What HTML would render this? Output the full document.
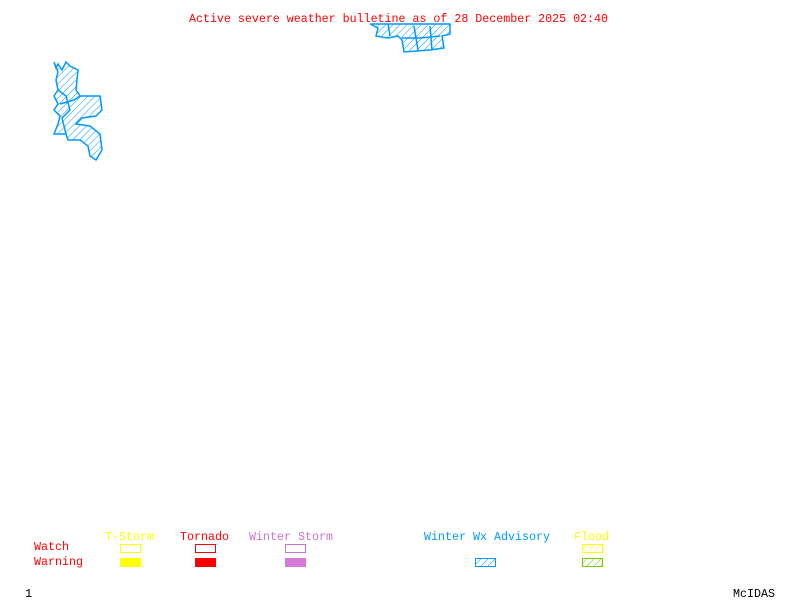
<!DOCTYPE html>
<html><head><style>
body{margin:0;background:#fff;width:800px;height:600px;overflow:hidden}
svg{display:block}
text{font-family:"Liberation Mono",monospace;font-size:12px}
</style></head><body>
<svg width="800" height="600" xmlns="http://www.w3.org/2000/svg">
<defs>
<pattern id="hb" width="5" height="5" patternUnits="userSpaceOnUse" patternTransform="rotate(45)"><line x1="0" y1="0" x2="0" y2="5" stroke="#09f" stroke-width="1"/></pattern>
<pattern id="hy" width="5" height="5" patternUnits="userSpaceOnUse" patternTransform="rotate(45)"><line x1="0" y1="0" x2="0" y2="5" stroke="#ff0" stroke-width="1"/></pattern>
<pattern id="hg" width="5" height="5" patternUnits="userSpaceOnUse" patternTransform="rotate(45)"><line x1="0" y1="0" x2="0" y2="5" stroke="#7c0" stroke-width="1"/></pattern>
</defs>
<text x="189" y="22" fill="#f00" textLength="419" lengthAdjust="spacingAndGlyphs">Active severe weather bulletine as of 28 December 2025 02:40</text>
<polygon points="54,62 56,68 58,64 62,70 66,62 70,66 78,70 76,90 80,96 100,96 102,110 96,116 82,118 76,124 90,126 100,134 102,150 96,160 90,156 88,146 80,140 68,140 66,134 54,134 58,124 60,116 54,110 58,104 54,96 58,90 56,80 58,72" fill="url(#hb)" stroke="#09f" stroke-width="1.5"/>
<polyline points="58,90 66,96 70,110 62,118 66,134 M" fill="none" stroke="#09f" stroke-width="1.5"/>
<polyline points="60,104 74,100 80,96" fill="none" stroke="#09f" stroke-width="1.5"/>
<polygon points="370,24 450,24 450,34 442,36 444,48 430,50 404,52 402,40 398,36 388,38 376,36 378,28" fill="url(#hb)" stroke="#09f" stroke-width="1.5"/>
<polyline points="388,24 390,36 M" fill="none" stroke="#09f" stroke-width="1.5"/>
<polyline points="402,38 420,38 440,36" fill="none" stroke="#09f" stroke-width="1.5"/>
<polyline points="414,26 418,50" fill="none" stroke="#09f" stroke-width="1.5"/>
<polyline points="430,26 432,50" fill="none" stroke="#09f" stroke-width="1.5"/>
<text x="105" y="540" fill="#ff0" textLength="49" lengthAdjust="spacingAndGlyphs">T-Storm</text>
<text x="180" y="540" fill="#f00" textLength="49" lengthAdjust="spacingAndGlyphs">Tornado</text>
<text x="249" y="540" fill="#d070d8" textLength="84" lengthAdjust="spacingAndGlyphs">Winter Storm</text>
<text x="424" y="540" fill="#09f" textLength="126" lengthAdjust="spacingAndGlyphs">Winter Wx Advisory</text>
<text x="574" y="540" fill="#ff0" textLength="35" lengthAdjust="spacingAndGlyphs">Flood</text>
<text x="34" y="550" fill="#f00" textLength="35" lengthAdjust="spacingAndGlyphs">Watch</text>
<text x="34" y="565" fill="#f00" textLength="49" lengthAdjust="spacingAndGlyphs">Warning</text>
<rect x="120.5" y="544.5" width="20" height="8" fill="none" stroke="#ff0"/>
<rect x="120" y="558" width="21" height="9" fill="#ff0"/>
<rect x="195.5" y="544.5" width="20" height="8" fill="none" stroke="#f00"/>
<rect x="195" y="558" width="21" height="9" fill="#f00"/>
<rect x="285.5" y="544.5" width="20" height="8" fill="none" stroke="#d070d8"/>
<rect x="285" y="558" width="21" height="9" fill="#d878d8"/>
<rect x="475.5" y="558.5" width="20" height="8" fill="url(#hb)" stroke="#09f"/>
<rect x="582.5" y="544.5" width="20" height="8" fill="url(#hy)" stroke="#ff0"/>
<rect x="582.5" y="558.5" width="20" height="8" fill="url(#hg)" stroke="#7c0"/>
<text x="25" y="597" fill="#000">1</text>
<text x="733" y="597" fill="#000" textLength="42" lengthAdjust="spacingAndGlyphs">McIDAS</text>
</svg>
</body></html>
